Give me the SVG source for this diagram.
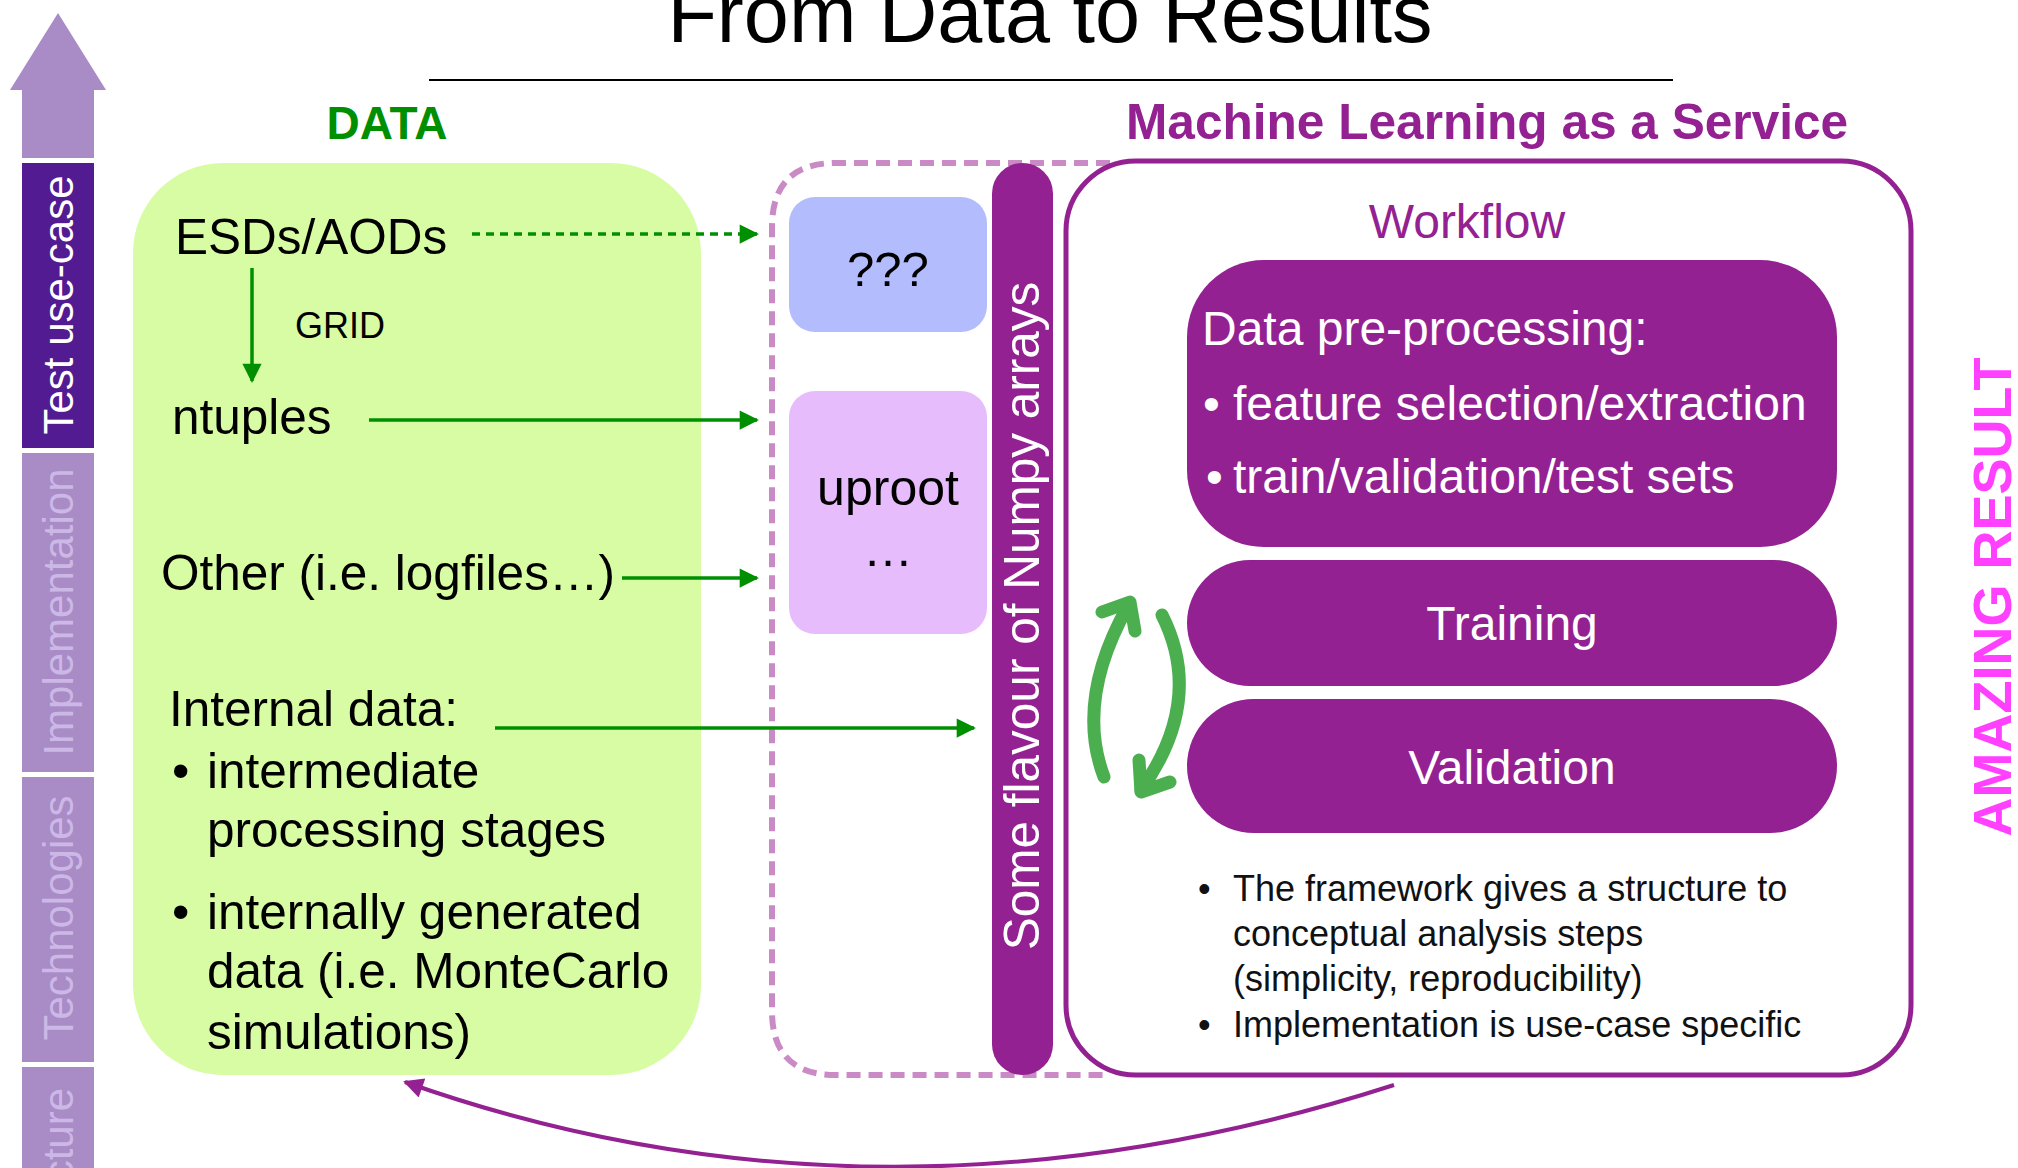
<svg xmlns="http://www.w3.org/2000/svg" width="2018" height="1168" viewBox="0 0 2018 1168">
  <defs>
    <marker id="ahGreen" viewBox="0 0 10 10" refX="9" refY="5" markerWidth="6" markerHeight="5.5" markerUnits="strokeWidth" orient="auto">
      <path d="M0,0 L10,5 L0,10 z" fill="#008f00"/>
    </marker>
    <marker id="ahPurple" viewBox="0 0 10 10" refX="9" refY="5" markerWidth="6" markerHeight="5" markerUnits="strokeWidth" orient="auto">
      <path d="M0,0 L10,5 L0,10 z" fill="#942192"/>
    </marker>
    <style>
      .sans { font-family: "Liberation Sans", Arial, Helvetica, sans-serif; }
      .green-text { font-size: 49.5px; fill: #000000; }
      .step { fill: #942192; }
      .step-text { font-size: 48px; fill: #ffffff; }
      .note { font-size: 36px; fill: #111111; }
      .flow { stroke: #008f00; stroke-width: 3.5; fill: none; }
      .side-light { fill: #a98bc6; }
      .side-light-text { font-size: 42px; fill: #cbb8e6; }
      .cycle { stroke: #4bae4f; stroke-width: 13; fill: none; stroke-linecap: round; stroke-linejoin: round; }
    </style>
  </defs>

  <rect width="2018" height="1168" fill="#ffffff"/>

  <!-- Title and rule -->
  <g id="title">
    <text class="sans" x="1050" y="42" font-size="81" text-anchor="middle" fill="#000">From Data to Results</text>
    <line x1="429" y1="80" x2="1673" y2="80" stroke="#000" stroke-width="2"/>
  </g>

  <!-- Left stage column with upward arrow -->
  <g id="stage-arrow">
    <path d="M58,13 L106,90 L94,90 L94,158 L22,158 L22,90 L10,90 z" fill="#a98bc6"/>
  </g>
  <g id="stage-test">
    <rect x="22" y="163" width="72" height="285" fill="#521b92"/>
    <text class="sans" transform="translate(58,305) rotate(-90)" y="15" font-size="42" text-anchor="middle" fill="#ffffff">Test use-case</text>
  </g>
  <g id="stage-implementation">
    <rect class="side-light" x="22" y="453" width="72" height="319"/>
    <text class="sans side-light-text" transform="translate(58,612) rotate(-90)" y="15" text-anchor="middle">Implementation</text>
  </g>
  <g id="stage-technologies">
    <rect class="side-light" x="22" y="777" width="72" height="285"/>
    <text class="sans side-light-text" transform="translate(58,918) rotate(-90)" y="15" text-anchor="middle">Technologies</text>
  </g>
  <g id="stage-architecture">
    <rect class="side-light" x="22" y="1067" width="72" height="120"/>
    <text class="sans side-light-text" transform="translate(58,1200) rotate(-90)" y="15" text-anchor="middle">Architecture</text>
  </g>

  <!-- Section headings -->
  <text class="sans" x="387" y="139" font-size="46" font-weight="bold" text-anchor="middle" fill="#008f00">DATA</text>
  <text class="sans" x="1126" y="139" font-size="49.6" font-weight="bold" fill="#942192">Machine Learning as a Service</text>

  <!-- Data sources panel -->
  <g id="data-panel">
    <rect x="133" y="163" width="568" height="912" rx="90" ry="90" fill="#d8fca4"/>
    <text class="sans green-text" x="175" y="254">ESDs/AODs</text>
    <text class="sans" x="295" y="338" font-size="36" fill="#000">GRID</text>
    <text class="sans green-text" x="172" y="434">ntuples</text>
    <text class="sans green-text" x="161" y="590">Other (i.e. logfiles…)</text>
    <text class="sans green-text" x="169" y="726">Internal data:</text>
    <text class="sans green-text" x="172" y="788">•</text>
    <text class="sans green-text" x="207" y="788">intermediate</text>
    <text class="sans green-text" x="207" y="847">processing stages</text>
    <text class="sans green-text" x="172" y="929">•</text>
    <text class="sans green-text" x="207" y="929">internally generated</text>
    <text class="sans green-text" x="207" y="988">data (i.e. MonteCarlo</text>
    <text class="sans green-text" x="207" y="1049">simulations)</text>
  </g>

  <!-- Dashed conversion region -->
  <g id="conversion-region">
    <path d="M1110,163 H836 Q772,163 772,227 V1011 Q772,1075 836,1075 H1110" fill="none" stroke="#c98ac6" stroke-width="6" stroke-dasharray="14 8"/>
  </g>

  <g id="node-unknown">
    <rect x="789" y="197" width="198" height="135" rx="26" ry="26" fill="#b3bcfc"/>
    <text class="sans" x="888" y="286" font-size="49" text-anchor="middle" fill="#000">???</text>
  </g>

  <g id="node-uproot">
    <rect x="789" y="391" width="198" height="243" rx="26" ry="26" fill="#e7bcfc"/>
    <text class="sans" x="888" y="505" font-size="50" text-anchor="middle" fill="#000">uproot</text>
    <text class="sans" x="888" y="566" font-size="50" text-anchor="middle" fill="#000">…</text>
  </g>

  <g id="node-numpy">
    <rect x="992" y="163" width="61" height="912" rx="30.5" ry="30.5" fill="#942192"/>
    <text class="sans" transform="translate(1022,616) rotate(-90)" y="17" font-size="49.5" text-anchor="middle" fill="#ffffff">Some flavour of Numpy arrays</text>
  </g>

  <!-- Machine learning service panel -->
  <g id="ml-service">
    <rect x="1066" y="161" width="845" height="914" rx="70" ry="70" fill="#ffffff" stroke="#942192" stroke-width="5"/>
    <text class="sans" x="1467" y="238" font-size="48" text-anchor="middle" fill="#942192">Workflow</text>
  </g>

  <g id="step-preprocessing">
    <rect class="step" x="1187" y="260" width="650" height="287" rx="77" ry="77"/>
    <text class="sans step-text" x="1202" y="345">Data pre-processing:</text>
    <text class="sans step-text" x="1203" y="420">•</text>
    <text class="sans step-text" x="1233" y="420">feature selection/extraction</text>
    <text class="sans step-text" x="1206" y="493">•</text>
    <text class="sans step-text" x="1233" y="493">train/validation/test sets</text>
  </g>

  <g id="step-training">
    <rect class="step" x="1187" y="560" width="650" height="126" rx="63" ry="63"/>
    <text class="sans step-text" x="1512" y="640" font-size="46" text-anchor="middle">Training</text>
  </g>

  <g id="step-validation">
    <rect class="step" x="1187" y="699" width="650" height="134" rx="67" ry="67"/>
    <text class="sans step-text" x="1512" y="784" font-size="46" text-anchor="middle">Validation</text>
  </g>

  <g id="ml-notes">
    <text class="sans note" x="1198" y="901">•</text>
    <text class="sans note" x="1233" y="901">The framework gives a structure to</text>
    <text class="sans note" x="1233" y="946">conceptual analysis steps</text>
    <text class="sans note" x="1233" y="991">(simplicity, reproducibility)</text>
    <text class="sans note" x="1198" y="1037">•</text>
    <text class="sans note" x="1233" y="1037">Implementation is use-case specific</text>
  </g>

  <g id="result">
    <text class="sans" transform="translate(1992,597) rotate(-90)" y="19" font-size="54" font-weight="bold" text-anchor="middle" fill="#ff40ff">AMAZING RESULT</text>
  </g>

  <!-- Connectors -->
  <g id="connectors">
    <line class="flow" x1="472" y1="234" x2="757" y2="234" stroke-dasharray="8 6" marker-end="url(#ahGreen)"/>
    <line class="flow" x1="252" y1="268" x2="252" y2="381" marker-end="url(#ahGreen)"/>
    <line class="flow" x1="369" y1="420" x2="757" y2="420" marker-end="url(#ahGreen)"/>
    <line class="flow" x1="622" y1="578" x2="757" y2="578" marker-end="url(#ahGreen)"/>
    <line class="flow" x1="495" y1="728" x2="974" y2="728" marker-end="url(#ahGreen)"/>

    <!-- training / validation loop -->
    <path class="cycle" d="M1104,777 Q1075,700 1128,606"/>
    <path class="cycle" d="M1102,612 L1130,602 L1135,631"/>
    <path class="cycle" d="M1162,615 Q1205,700 1141,790"/>
    <path class="cycle" d="M1170,782 L1141,792 L1139,760"/>

    <!-- feedback from results back to data -->
    <path d="M1394,1085 Q880,1250 405,1082" fill="none" stroke="#942192" stroke-width="4" marker-end="url(#ahPurple)"/>
  </g>
</svg>
